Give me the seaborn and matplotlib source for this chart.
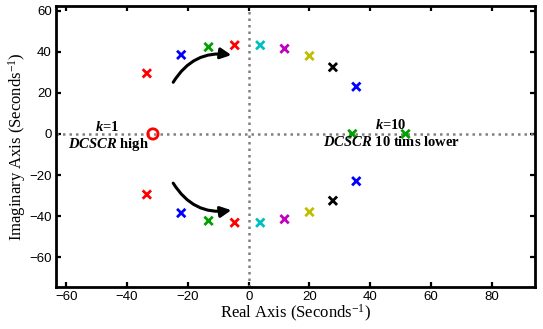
import matplotlib
matplotlib.use("Agg")
import matplotlib.pyplot as plt
import seaborn as sns
import pandas as pd

# ---- data ----
pole_real = [-33.5, -22.2, -13.2, -4.6, 3.8, 11.8, 20.0, 27.7, 35.4,
             -33.5, -22.2, -13.2, -4.6, 3.8, 11.8, 20.0, 27.7, 35.4,
             34.1, 51.6]
pole_imag = [29.5, 38.5, 42.3, 43.2, 43.2, 41.5, 38.0, 32.5, 23.0,
             -29.5, -38.5, -42.3, -43.2, -43.2, -41.5, -38.0, -32.5, -23.0,
             0.0, 0.0]
pole_group = ["r1", "b1", "g1", "r2", "c", "m", "y", "k", "b2",
              "r1", "b1", "g1", "r2", "c", "m", "y", "k", "b2",
              "g2", "g2"]
group_colors = {"r1": "#ff0000", "b1": "#0000ff", "g1": "#00a000", "r2": "#ff0000",
                "c": "#00bfbf", "m": "#bf00bf", "y": "#bfbf00", "k": "#000000",
                "b2": "#0000ff", "g2": "#00a000"}
zero_real = [-31.5]
zero_imag = [0.0]
x_ticks = [-60, -40, -20, 0, 20, 40, 60, 80]
y_ticks = [-60, -40, -20, 0, 20, 40, 60]

sns.set_style("ticks")
plt.rcParams["font.family"] = ["Liberation Sans", "DejaVu Sans"]
plt.rcParams["mathtext.fontset"] = "custom"
plt.rcParams["mathtext.rm"] = "Liberation Serif"
plt.rcParams["mathtext.it"] = "Liberation Serif:italic"
plt.rcParams["mathtext.bf"] = "Liberation Serif:bold"
plt.rcParams["mathtext.bfit"] = "Liberation Serif:italic:bold"
plt.rcParams["text.color"] = "black"
plt.rcParams["axes.labelcolor"] = "black"

fig = plt.figure(figsize=(5.43, 3.29), dpi=100)
ax = fig.add_axes([0.1031, 0.1277, 0.8822, 0.8541])

ax.axhline(0, color="#808080", lw=1.8, ls=(0, (1, 1.6)), zorder=1)
ax.axvline(0, color="#808080", lw=1.8, ls=(0, (1, 1.6)), zorder=1)

df = pd.DataFrame({"re": pole_real, "im": pole_imag, "g": pole_group})
sns.scatterplot(data=df, x="re", y="im", hue="g", palette=group_colors,
                marker="x", s=36, linewidth=2.0, legend=False, ax=ax, zorder=3)
sns.scatterplot(x=zero_real, y=zero_imag, marker="o", s=55, facecolor="none",
                edgecolor="#ff0000", linewidth=2.0, ax=ax, zorder=4)

ax.annotate("", xy=(-4.8, 38.2), xytext=(-25.3, 24.0),
            arrowprops=dict(arrowstyle="-|>", color="black", lw=2.2,
                            mutation_scale=16, connectionstyle="arc3,rad=-0.35"))
ax.annotate("", xy=(-4.8, -36.9), xytext=(-25.3, -22.8),
            arrowprops=dict(arrowstyle="-|>", color="black", lw=2.2,
                            mutation_scale=16, connectionstyle="arc3,rad=0.35"))

tkw = dict(family="Liberation Serif", fontweight="bold", fontsize=10.5,
           ha="center", va="center", color="black")
ax.text(-46.6, 3.4, r"$\mathbfit{k}$=1", **tkw)
ax.text(-46.0, -5.2, r"$\mathbfit{DCSCR}$ high", **tkw)
ax.text(46.9, 4.6, r"$\mathbfit{k}$=10", **tkw)
ax.text(46.9, -3.8, r"$\mathbfit{DCSCR}$ 10 tims lower", **tkw)

ax.set_xlim(-63.4, 94.2)
ax.set_ylim(-74.5, 62.3)
ax.set_xticks(x_ticks)
ax.set_yticks(y_ticks)
ax.tick_params(direction="in", top=True, right=True, length=3.5, width=1.6,
               labelsize=9.5, pad=3, color="black", labelcolor="black")
for s in ax.spines.values():
    s.set_linewidth(2.0)
    s.set_color("black")
ax.set_xlabel(r"Real Axis (Seconds$^{-1}$)", family="Liberation Serif",
              fontsize=12, labelpad=0)
ax.set_ylabel(r"Imaginary Axis (Seconds$^{-1}$)", family="Liberation Serif",
              fontsize=12, labelpad=1)

fig.savefig("out.png", dpi=100)
